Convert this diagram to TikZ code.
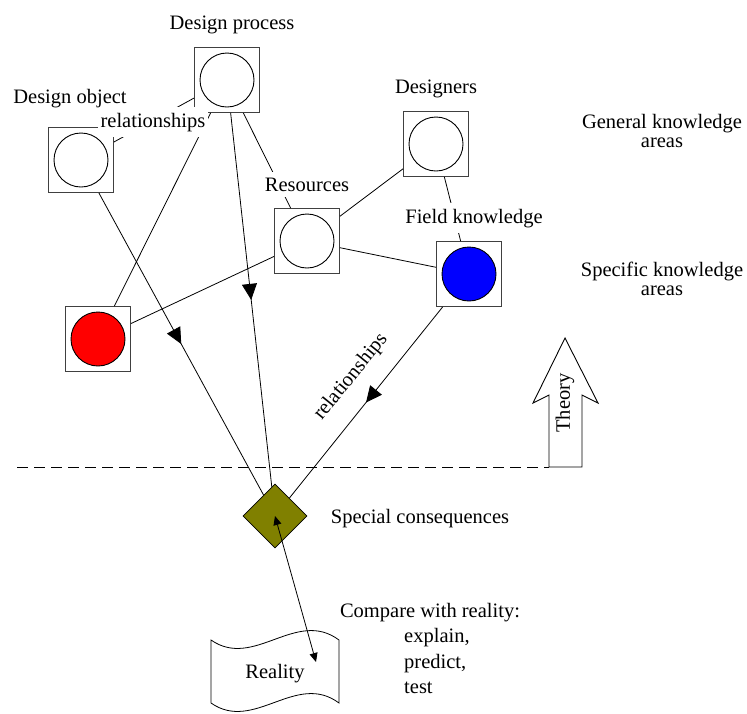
\documentclass[tikz,border=0pt]{standalone}
\usepackage{fontspec}
\setmainfont{Liberation Serif}
\usetikzlibrary{shapes.geometric,arrows.meta,decorations.markings}
\definecolor{olivefill}{RGB}{128,128,0}
\begin{document}
\begin{tikzpicture}[x=1pt,y=-1pt,
  every node/.style={font=\fontsize{20.5}{19}\selectfont},
  kbox/.style={draw=black!75, line width=0.9pt, fill=white, minimum size=65pt,
    inner sep=0pt,
    path picture={\draw[draw=black, line width=0.9pt, fill=#1]
      (path picture bounding box.center) circle[radius=27pt];}},
  kbox/.default=white,
  link/.style={line width=0.8pt},
  midarrow/.style={postaction={decorate, decoration={markings,
    mark=at position 0.5 with {\arrow{Triangle[length=16pt,width=15pt]}}}}},
  smalltip/.style={line width=0.8pt,
    {Triangle[length=9pt,width=8pt]}-{Triangle[length=9pt,width=8pt]}},
  lbl/.style={fill=white, inner xsep=3pt, inner ysep=5.5pt},
]
\useasboundingbox (0,0) rectangle (747,713);

% knowledge areas
\node[kbox] (dproc) at (227,80) {};
\node[kbox] (dobj) at (81,160) {};
\node[kbox] (res) at (307,241) {};
\node[kbox] (dsg) at (436,144) {};
\node[kbox=blue] (field) at (469,274) {};
\node[kbox=red] (redk) at (98,339) {};
\node[diamond, draw, line width=0.8pt, fill=olivefill, minimum width=64pt,
  minimum height=64pt, inner sep=0pt] (cons) at (275,516) {};

% connections between areas
\draw[link] (dproc) -- (dobj);
\draw[link] (dproc) -- (res);
\draw[link] (redk) -- (dproc);
\draw[link] (redk) -- (res);
\draw[link] (res) -- (field);
\draw[link] (res) -- (dsg);
\draw[link] (dsg) -- (field);
\draw[link, midarrow] (dobj) -- (cons);
\draw[link, midarrow] (dproc) -- (cons);
\draw[link, midarrow] (field) -- (cons);

% labels sitting on the lines
\node[lbl, anchor=base] (lrel) at (153,127) {relationships};
\node[lbl, anchor=base] (lres) at (307,191) {Resources};
\node[lbl, anchor=base] (lfield) at (474,223) {Field knowledge};
\node[rotate=51] (lrel2) at (351,377) {relationships};

% titles
\node[anchor=base] (ldproc) at (232,29) {Design process};
\node[anchor=base] (ldobj) at (70,103) {Design object};
\node[anchor=base] (ldsg) at (436,93) {Designers};
\node[align=center] (lgen) at (662,131) {General knowledge\\areas};
\node[align=center] (lspec) at (662,279) {Specific knowledge\\areas};
\node[anchor=base] (lcons) at (420,523) {Special consequences};

% theory / reality divider
\coordinate (dashL) at (17,467);
\coordinate (dashR) at (549,467);
\draw[link, dash pattern=on 11pt off 6pt] (dashL) -- (dashR);
\draw[line width=0.9pt, fill=white] (549,467) -- (549,395) -- (533,403)
  -- (565,338) -- (598,403) -- (582,395) -- (582,467) -- cycle;
\node[rotate=90] (ltheory) at (565,403) {Theory};

% reality
\draw[line width=0.8pt] (211,640) .. controls (254,670) and (296,608) .. (339,640)
  -- (339,703) .. controls (296,671) and (254,733) .. (211,703) -- cycle;
\node[anchor=base] (real) at (275,678) {Reality};
\coordinate (rtip) at (316,662);
\draw[smalltip] (cons.center) -- (rtip);

\node[anchor=base] (cmp) at (430,617) {Compare with reality:};
\node[anchor=base west, inner sep=0pt] (cmp1) at (404,642) {explain,};
\node[anchor=base west, inner sep=0pt] (cmp2) at (404,668) {predict,};
\node[anchor=base west, inner sep=0pt] (cmp3) at (404,693) {test};
\end{tikzpicture}
\end{document}
